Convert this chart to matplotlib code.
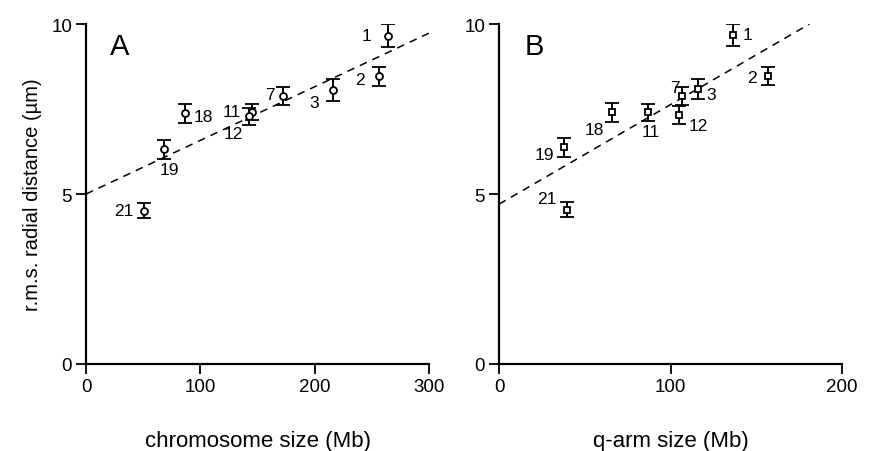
import matplotlib
matplotlib.use("Agg")
import matplotlib.pyplot as plt
import numpy as np

plt.rcParams['font.family'] = ['Liberation Sans', 'DejaVu Sans']

# Panel A: chromosome size vs rms radial distance
chrom_labels = ["1", "2", "3", "7", "11", "12", "18", "19", "21"]
chrom_size = [264, 256, 216, 172, 145, 143, 86.5, 68.5, 51]
rms_a = [9.66, 8.46, 8.07, 7.89, 7.42, 7.28, 7.37, 6.32, 4.51]
err_a = [0.33, 0.27, 0.32, 0.26, 0.24, 0.24, 0.29, 0.28, 0.22]
fit_a_x = [0, 300]
fit_a_y = [5.0, 9.73]

# Panel B: q-arm size vs rms radial distance
qarm_size = [136.3, 157, 116.2, 106.9, 87, 105, 66, 37.9, 39.8]
rms_b = [9.68, 8.48, 8.09, 7.89, 7.40, 7.33, 7.40, 6.37, 4.54]
err_b = [0.32, 0.27, 0.30, 0.26, 0.25, 0.26, 0.28, 0.27, 0.22]
fit_b_x = [0, 181]
fit_b_y = [4.7, 10.0]

# label offsets (points)
off_a = {"1": (-12, 0, 'right'), "2": (-10, -2, 'right'), "3": (-10, -9, 'right'),
         "7": (-6, 1, 'right'), "11": (-8, 0, 'right'), "12": (-5, -12, 'right'),
         "18": (6, -2, 'left'), "19": (4, -15, 'center'), "21": (-8, 0, 'right')}
off_b = {"1": (7, 0, 'left'), "2": (-8, -1, 'right'), "3": (6, -4, 'left'),
         "7": (-2, 6, 'right'), "11": (2, -14, 'center'), "12": (7, -8, 'left'),
         "18": (-6, -12, 'right'), "19": (-7, -5, 'right'), "21": (-8, 8, 'right')}

fig = plt.figure(figsize=(8.72, 4.52), dpi=100)
axA = fig.add_axes([86/872, 87/452, 343/872, 340/452])
axB = fig.add_axes([499/872, 87/452, 343/872, 340/452])

def style(ax, xmax, xticks, xlabel):
    ax.set_xlim(0, xmax)
    ax.set_ylim(0, 10)
    ax.set_xticks(xticks)
    ax.set_yticks([0, 5, 10])
    for s in ['top', 'right']:
        ax.spines[s].set_visible(False)
    for s in ['left', 'bottom']:
        ax.spines[s].set_linewidth(1.6)
    ax.tick_params(direction='out', length=7, width=1.3, labelsize=13.5, pad=3)
    ax.set_xlabel(xlabel, fontsize=16, labelpad=25)

def draw(ax, xs, ys, es, marker, offs, fx, fy):
    ax.plot(fx, fy, linestyle=(0, (5, 4)), color='black', lw=1.1)
    ax.errorbar(xs, ys, yerr=es, fmt=marker, mfc='white', mec='black', ms=5,
                mew=1.3, ecolor='black', elinewidth=1.4, capsize=5, capthick=1.4,
                color='black', zorder=3)
    for lab, x, y in zip(chrom_labels, xs, ys):
        dx, dy, ha = offs[lab]
        ax.annotate(lab, (x, y), xytext=(dx, dy), textcoords='offset points',
                    ha=ha, va='center', fontsize=12.5)

style(axA, 300, [0, 100, 200, 300], 'chromosome size (Mb)')
style(axB, 200, [0, 100, 200], 'q-arm size (Mb)')
draw(axA, chrom_size, rms_a, err_a, 'o', off_a, fit_a_x, fit_a_y)
draw(axB, qarm_size, rms_b, err_b, 's', off_b, fit_b_x, fit_b_y)
axA.set_ylabel('r.m.s. radial distance (µm)', fontsize=14.5, labelpad=7)
axA.text(0.07, 0.935, 'A', transform=axA.transAxes, fontsize=21, va='center', ha='left')
axB.text(0.075, 0.935, 'B', transform=axB.transAxes, fontsize=21, va='center', ha='left')

fig.savefig('out.png', dpi=100)
